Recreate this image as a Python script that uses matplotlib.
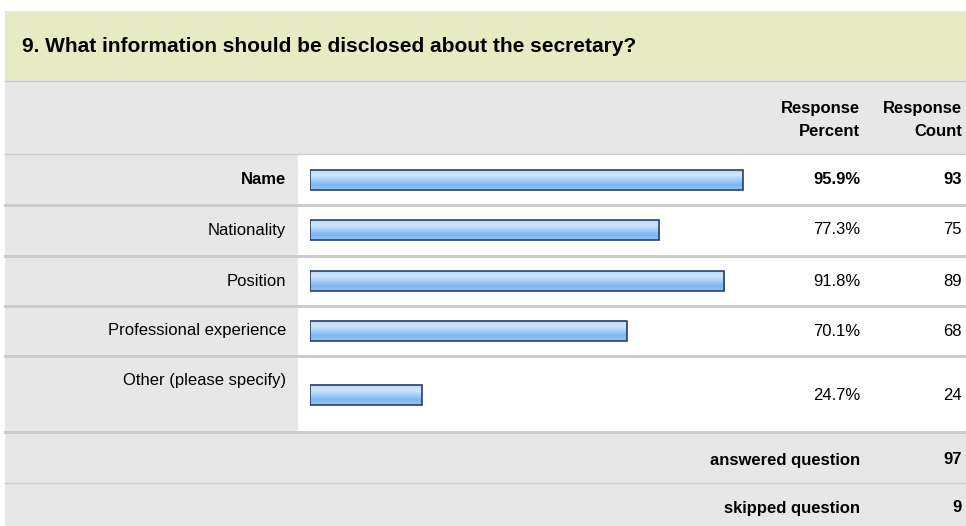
import matplotlib
matplotlib.use("Agg")
import matplotlib.pyplot as plt
import numpy as np
from matplotlib.colors import LinearSegmentedColormap
from matplotlib.patches import Rectangle

plt.rcParams["font.family"] = ["Liberation Sans", "DejaVu Sans"]

title = "9. What information should be disclosed about the secretary?"
choices = ["Name", "Nationality", "Position", "Professional experience", "Other (please specify)"]
percents = [95.9, 77.3, 91.8, 70.1, 24.7]
percent_labels = ["95.9%", "77.3%", "91.8%", "70.1%", "24.7%"]
counts = [93, 75, 89, 68, 24]
answered = 97
skipped = 9

W, H = 966, 526
GREEN = "#e6ebc3"
GREY = "#e7e7e7"
LINE = "#cccccc"
FS = 12

# row layout in pixels (top, bottom)
rows = [(155, 204), (206, 255), (257, 305), (307, 355), (357, 431)]
bar_centers = [180, 230, 281, 331, 395]
label_y = [180, 230, 281, 331, 381]

fig = plt.figure(figsize=(W / 100, H / 100), dpi=100)
bg = fig.add_axes([0, 0, 1, 1])
bg.set_xlim(0, W)
bg.set_ylim(H, 0)
bg.axis("off")

bg.add_patch(Rectangle((5, 11), W - 5, 69, color=GREEN, lw=0))
bg.add_patch(Rectangle((5, 80), W - 5, 75, color=GREY, lw=0))
bg.plot([5, W], [80.5, 80.5], color=LINE, lw=1)
bg.plot([5, W], [154, 154], color=LINE, lw=1)
for top, bot in rows:
    bg.add_patch(Rectangle((5, top), 293, bot - top, color=GREY, lw=0))
    bg.add_patch(Rectangle((298, top), W - 298, bot - top, color="white", lw=0))
    bg.plot([5, W], [bot + 0.5, bot + 0.5], color=LINE, lw=2.2)
bg.add_patch(Rectangle((5, 432), W - 5, H - 432, color=GREY, lw=0))
bg.plot([5, W], [482.5, 482.5], color=LINE, lw=1)

bg.text(22, 46, title, fontsize=15, fontweight="bold", va="center", ha="left")
bg.text(860, 108, "Response", fontsize=FS, fontweight="bold", ha="right", va="center")
bg.text(860, 132, "Percent", fontsize=FS, fontweight="bold", ha="right", va="center")
bg.text(962, 108, "Response", fontsize=FS, fontweight="bold", ha="right", va="center")
bg.text(962, 132, "Count", fontsize=FS, fontweight="bold", ha="right", va="center")

for i, name in enumerate(choices):
    weight = "bold" if i == 0 else "normal"
    bg.text(286, label_y[i], name, fontsize=FS, fontweight=weight, ha="right", va="center")
    bg.text(860, bar_centers[i], percent_labels[i], fontsize=FS, fontweight=weight, ha="right", va="center")
    bg.text(962, bar_centers[i], str(counts[i]), fontsize=FS, fontweight=weight, ha="right", va="center")

bg.text(860, 460, "answered question", fontsize=FS, fontweight="bold", ha="right", va="center")
bg.text(962, 460, str(answered), fontsize=FS, fontweight="bold", ha="right", va="center")
bg.text(860, 508, "skipped question", fontsize=FS, fontweight="bold", ha="right", va="center")
bg.text(962, 508, str(skipped), fontsize=FS, fontweight="bold", ha="right", va="center")

# bar axes: x in percent, 0 at px 310 and 100 at px 761.5
x0, x1 = 310, 761.5
ax = fig.add_axes([x0 / W, 0, (x1 - x0) / W, 1])
ax.set_xlim(0, 100)
ax.set_ylim(H, 0)
ax.axis("off")

cmap = LinearSegmentedColormap.from_list(
    "bar", ["#b9dafd", "#cfe6fe", "#a6cefa", "#7db4f1", "#94c5f8"]
)
grad = np.linspace(0, 1, 64).reshape(-1, 1)
bars = ax.barh(bar_centers, percents, height=20, color="none",
               edgecolor="#2b3f63", linewidth=1.2, zorder=3)
for bar in bars:
    bx, by = bar.get_x(), bar.get_y()
    bw, bh = bar.get_width(), bar.get_height()
    im = ax.imshow(grad, cmap=cmap, aspect="auto", origin="upper",
                   extent=(bx, bx + bw, by + bh, by), zorder=2)
    im.set_clip_path(bar)
ax.set_xlim(0, 100)
ax.set_ylim(H, 0)

fig.savefig("out.png", dpi=100)
